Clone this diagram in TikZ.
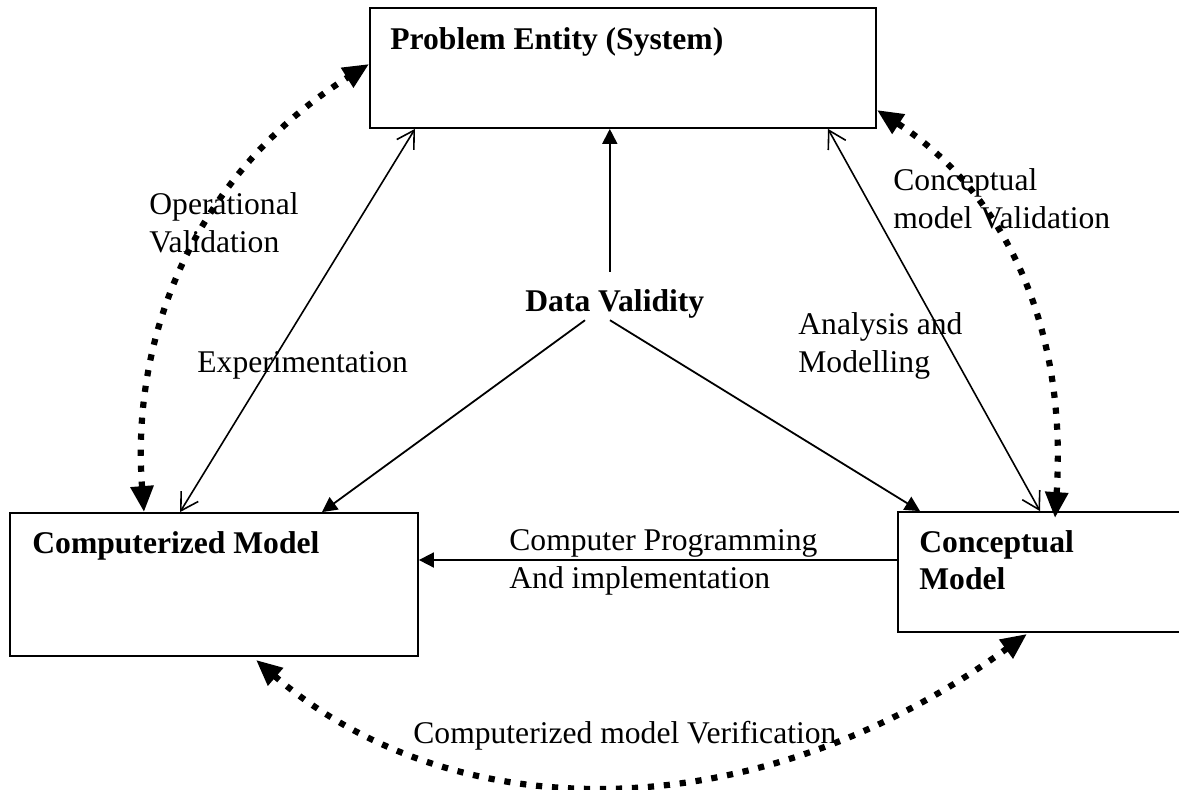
\documentclass[tikz,border=0pt]{standalone}
\usepackage{fontspec}
\setmainfont{Liberation Serif}
\usetikzlibrary{arrows.meta,calc}

\begin{document}
\begin{tikzpicture}[x=0.5pt,y=-0.5pt,
  every node/.style={font=\fontsize{15.8}{18.8}\selectfont},
  box/.style={draw, line width=0.9pt, rectangle, inner sep=0pt},
  txt/.style={anchor=base west, inner sep=0pt, align=left},
  head/.style={txt, font=\fontsize{15.8}{18.5}\selectfont\bfseries},
  solidarrow/.style={line width=0.9pt, -{Triangle[length=7.5pt,width=7.5pt]}},
  bothopen/.style={line width=0.8pt, {Straight Barb[length=8.5pt,width=10pt]}-{Straight Barb[length=8.5pt,width=10pt]}},
  dotlink/.style={line width=3.1pt, line cap=butt, dash pattern=on 3.1pt off 4.9pt,
    {Triangle[length=13pt,width=11pt]}-{Triangle[length=13pt,width=11pt]}}
]
\clip (0,0) rectangle (1179,789);

% the three boxes
\node[box, minimum width=253pt, minimum height=60pt] (pe) at (623,68) {};
\node[box, minimum width=204pt, minimum height=71.5pt] (comp) at (214,584.5) {};
\node[box, minimum width=161pt, minimum height=60pt] (conc) at (1059,572) {};

% box titles (multi-line nodes are placed by their last baseline)
\node[head] (pe-t) at (390,49) {Problem Entity (System)};
\node[head] (comp-t) at (32,553) {Computerized Model};
\node[head] (conc-t) at (919,589) {Conceptual\\Model};

% central label
\node[head] (dv) at (525,311) {Data Validity};

% edge labels
\node[txt] (ov) at (149,252) {Operational\\Validation};
\node[txt] (ex) at (197,372) {Experimentation};
\node[txt] (cv) at (893,228) {Conceptual\\model Validation};
\node[txt] (am) at (798,372) {Analysis and\\Modelling};
\node[txt] (cpi) at (509,588) {Computer Programming\\And implementation};
\node[txt] (vf) at (413,743) {Computerized model Verification};

% arrows leaving Data Validity
\coordinate (dvup) at ($(dv.north)+(-5,-17)$);
\coordinate (dvl) at ($(dv.south west)+(60,2)$);
\coordinate (dvr) at ($(dv.south west)+(85,2)$);
\draw[solidarrow] (dvup) -- (dvup |- pe.south);
\draw[solidarrow] (dvl) -- (322,0 |- comp.north);
\draw[solidarrow] (dvr) -- (920,0 |- conc.north);

% two-way solid links
\draw[bothopen] (180,0 |- comp.north) -- (415,0 |- pe.south);
\draw[bothopen] (828,0 |- pe.south) -- (1040,0 |- conc.north);

% programming link
\coordinate (prog) at ($(conc.west)+(0,-12)$);
\draw[solidarrow] (prog) -- (comp.east |- prog);

% dotted validation / verification loops
\draw[dotlink] (144,0 |- comp.north) .. controls (130,330) and (200,170) .. (pe.west |- 0,64);
\draw[dotlink] ($(1055,0 |- conc.north)+(0,7)$) .. controls (1068,320) and (1000,190) .. (pe.east |- 0,110);
\draw[dotlink] ($(256,0 |- comp.south)+(0,3)$) .. controls (454,831) and (756,831) .. ($(1027,0 |- conc.south)+(0,1)$);
\end{tikzpicture}
\end{document}
